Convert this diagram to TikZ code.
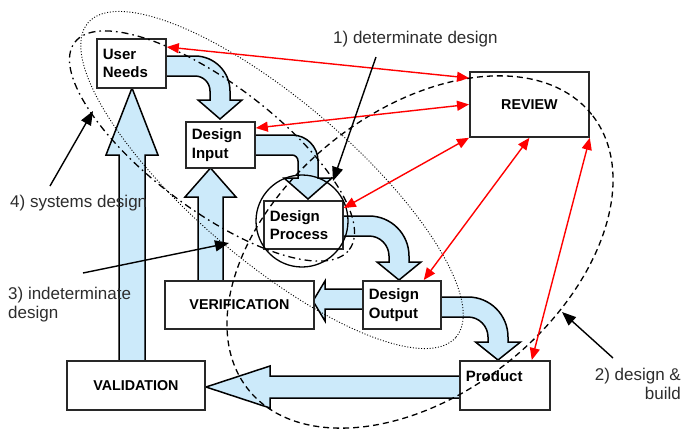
\documentclass[tikz,border=0pt]{standalone}
\usepackage{fontspec}
\setmainfont{Liberation Sans}
\usetikzlibrary{arrows.meta}
\definecolor{fatblue}{RGB}{204,234,250}
\definecolor{boxline}{RGB}{40,40,40}
\definecolor{txtgray}{RGB}{45,45,45}
\begin{document}
\begin{tikzpicture}[x=1pt,y=-1pt,
  fat/.style={fill=fatblue, draw=black, line width=1.5pt, line join=miter},
  box/.style={draw=boxline, line width=1.8pt, fill=white, inner sep=0pt, anchor=north west, font=\bfseries\fontsize{15}{18.5}\selectfont},
  lbox/.style={box, inner xsep=6pt, align=left},
  cbox/.style={box, align=center, font=\bfseries\fontsize{14.3}{18}\selectfont},
  rline/.style={red, line width=1.4pt, {Triangle[length=12pt,width=10pt]}-{Triangle[length=12pt,width=10pt]}},
  kline/.style={black, line width=1.4pt, -{Triangle[length=14pt,width=11pt]}},
  note/.style={inner sep=0pt, text=txtgray, font=\fontsize{17}{19.5}\selectfont},
  ddash/.style={line width=1.3pt, dash pattern=on 6pt off 4pt},
  ddot/.style={line width=0.9pt, dash pattern=on 1pt off 1.8pt},
  ddashdot/.style={line width=1.3pt, dash pattern=on 7pt off 4pt on 1.6pt off 4pt}
]
\fill[white] (0,0) rectangle (690,432);
\useasboundingbox (0,0) rectangle (690,432);

% fat arrows
\draw[fat] (158,56) -- (195,56) .. controls (214.3,56) and (230,71.7) .. (230,91) -- (230,100) -- (242,100) -- (220,119) -- (198,100) -- (210,100) -- (210,91) .. controls (210,82.7) and (203.3,76) .. (195,76) -- (158,76) -- cycle;
\draw[fat] (250,135) -- (292,135) .. controls (306.4,135) and (318,146.6) .. (318,161) -- (318,178) -- (332,178) -- (308,199) -- (284,178) -- (298,178) -- (298,161) .. controls (298,157.7) and (295.3,155) .. (292,155) -- (250,155) -- cycle;
\draw[fat] (338,216) -- (369,216) .. controls (391.1,216) and (409,233.9) .. (409,256) -- (409,262) -- (421,262) -- (399,280) -- (377,262) -- (389,262) -- (389,256) .. controls (389,245) and (380,236) .. (369,236) -- (338,236) -- cycle;
\draw[fat] (436,297) -- (468,297) .. controls (490.1,297) and (508,314.9) .. (508,337) -- (508,342) -- (520.5,342) -- (498,360) -- (475.5,342) -- (488,342) -- (488,337) .. controls (488,326) and (479,317) .. (468,317) -- (436,317) -- cycle;
\draw[fat] (366,289) -- (325,289) -- (325,281) -- (313,301) -- (325,321) -- (325,309) -- (366,309) -- cycle;
\draw[fat] (198,284) -- (198,197) -- (185,197) -- (210.5,168) -- (236,197) -- (223,197) -- (223,284) -- cycle;
\draw[fat] (119,364) -- (119,155) -- (106,155) -- (132,88) -- (158,155) -- (145,155) -- (145,364) -- cycle;
\draw[fat] (463,376) -- (270,376) -- (270,366) -- (206,387) -- (270,408) -- (270,398) -- (463,398) -- cycle;

% boxes
\node[lbox, text width=57pt, minimum height=49pt] (un) at (96,38) {User\\Needs};
\node[lbox, text width=57pt, minimum height=46pt] (di) at (185,121) {Design\\Input};
\node[lbox, text width=67pt, minimum height=48pt] (dp) at (263,200) {Design\\Process};
\node[lbox, text width=66pt, minimum height=48pt] (do) at (362,280) {Design\\Output};
\node[cbox, minimum width=149pt, minimum height=48pt] (ver) at (164,280) {VERIFICATION};
\node[cbox, minimum width=138pt, minimum height=49pt] (val) at (66,360) {VALIDATION};
\node[lbox, text width=78pt, minimum height=49pt] (prod) at (459,360) {Product\\~};
\node[cbox, minimum width=119pt, minimum height=65pt] (rev) at (469,71) {REVIEW};

% circle around design process
\draw[line width=1.3pt] (302,221) circle [radius=46pt];

% ellipses
\draw[ddash, rotate around={38.7:(420,252)}] (420,252) ellipse [x radius=220pt, y radius=141pt];
\draw[ddot, rotate around={-40.5:(272,180)}] (272,180) ellipse [x radius=242pt, y radius=80pt];
\draw[ddashdot, rotate around={-37:(212,146)}] (212,146) ellipse [x radius=172pt, y radius=63pt];

% red review arrows
\draw[rline] ([yshift=-9pt]un.north east) -- ([yshift=-7pt]rev.north west);
\draw[rline] ([yshift=-7pt]di.north east) -- (rev.west);
\draw[rline] ([yshift=-8pt]dp.north east) -- (rev.south west);
\draw[rline] ([xshift=-18pt]do.north east) -- (rev.south);
\draw[rline] ([xshift=-19pt]prod.north east) -- (rev.south east);

% annotations
\node[note, anchor=base west] (t1) at (333,43) {1) determinate design};
\node[note, anchor=base west] (t2) at (10,207.5) {4) systems design};
\node[note, anchor=north west, align=left] (t3) at (8,286.6) {3) indeterminate\\design};
\node[note, anchor=north east, align=right] (t4) at (681,367.6) {2) design \&\\build};

\coordinate (k1s) at (376,57);  \coordinate (k1e) at (333,181);
\coordinate (k2s) at (50,186);  \coordinate (k2e) at (93,111);
\coordinate (k3s) at (83,273);  \coordinate (k3e) at (229,243);
\coordinate (k4s) at (613,358); \coordinate (k4e) at (562,312);
\draw[kline] (k1s) -- (k1e);
\draw[kline] (k2s) -- (k2e);
\draw[kline] (k3s) -- (k3e);
\draw[kline] (k4s) -- (k4e);
\end{tikzpicture}
\end{document}
